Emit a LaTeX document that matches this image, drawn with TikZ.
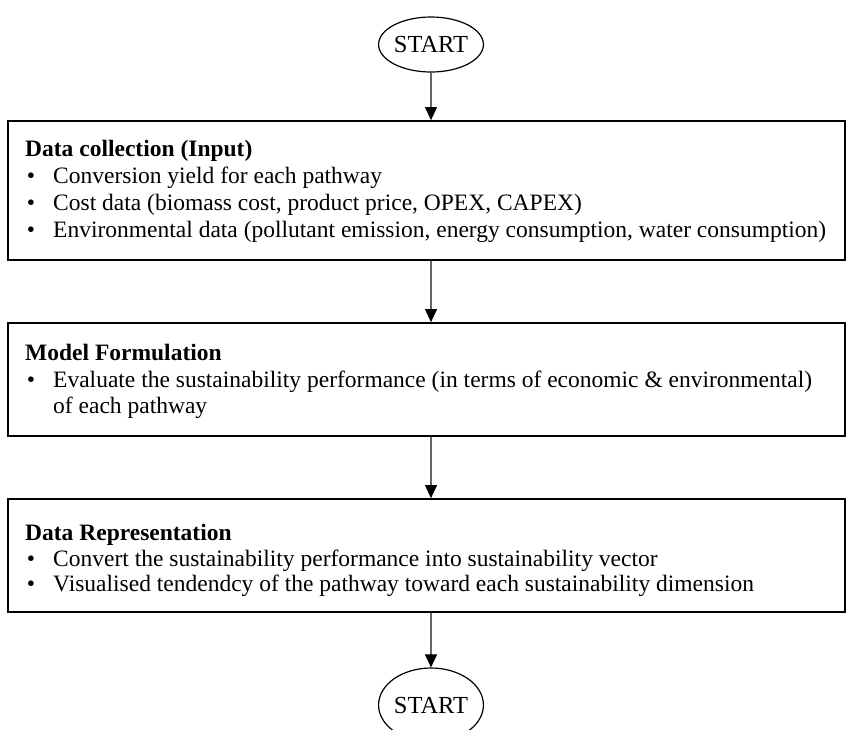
\documentclass[tikz,border=0pt]{standalone}
\usepackage{fontspec}
\setmainfont{Liberation Serif}
\usetikzlibrary{arrows.meta,shapes.geometric}
\begin{document}
\begin{tikzpicture}[x=1pt,y=-1pt,
  box/.style={draw=black,line width=1.8pt,rectangle,minimum width=837pt,inner sep=0pt},
  term/.style={draw=black,line width=1.2pt,ellipse,minimum width=92pt,inner sep=0pt,font=\fontsize{24.5}{28}\selectfont},
  ttl/.style={anchor=base west,inner sep=0pt,font=\fontsize{23.5}{28}\selectfont\bfseries},
  txt/.style={anchor=base west,inner sep=0pt,font=\fontsize{23.5}{28}\selectfont},
  bul/.style={anchor=base,inner sep=0pt,font=\fontsize{23.5}{28}\selectfont},
  flow/.style={draw=black!60,line width=1.1pt,-{Triangle[color=black,length=13pt,width=12pt]}}]
\path[use as bounding box,clip] (0,0) rectangle (846,729);
% terminals
\node[term,minimum height=55pt] (startA) at (431,44.5) {START};
\node[term,minimum height=74pt] (startB) at (431,705) {START};
% boxes
\node[box,minimum height=139pt] (box1) at (426.5,190.5) {};
\node[box,minimum height=113pt] (box2) at (426.5,379.5) {};
\node[box,minimum height=113pt] (box3) at (426.5,555.5) {};
% box 1 text
\node[ttl] (t1) at (25,156) {Data collection (Input)};
\node[bul] (b11) at (31,183) {•};
\node[txt] (l11) at (53,183) {Conversion yield for each pathway};
\node[bul] (b12) at (31,210) {•};
\node[txt] (l12) at (53,210) {Cost data (biomass cost, product price, OPEX, CAPEX)};
\node[bul] (b13) at (31,237) {•};
\node[txt] (l13) at (53,237) {Environmental data (pollutant emission, energy consumption, water consumption)};
% box 2 text
\node[ttl] (t2) at (25,360) {Model Formulation};
\node[bul] (b21) at (31,387) {•};
\node[txt] (l21) at (53,387) {Evaluate the sustainability performance (in terms of economic \& environmental)};
\node[txt] (l22) at (53,413) {of each pathway};
% box 3 text
\node[ttl] (t3) at (25,540) {Data Representation};
\node[bul] (b31) at (31,566) {•};
\node[txt] (l31) at (53,566) {Convert the sustainability performance into sustainability vector};
\node[bul] (b32) at (31,591) {•};
\node[txt] (l32) at (53,591) {Visualised tendendcy of the pathway toward each sustainability dimension};
% connectors
\draw[flow] (startA.south) -- (startA.south |- box1.north);
\draw[flow] (box1.south -| startA.south) -- (box2.north -| startA.south);
\draw[flow] (box2.south -| startA.south) -- (box3.north -| startA.south);
\draw[flow] (box3.south -| startA.south) -- (startB.north);
\end{tikzpicture}
\end{document}
